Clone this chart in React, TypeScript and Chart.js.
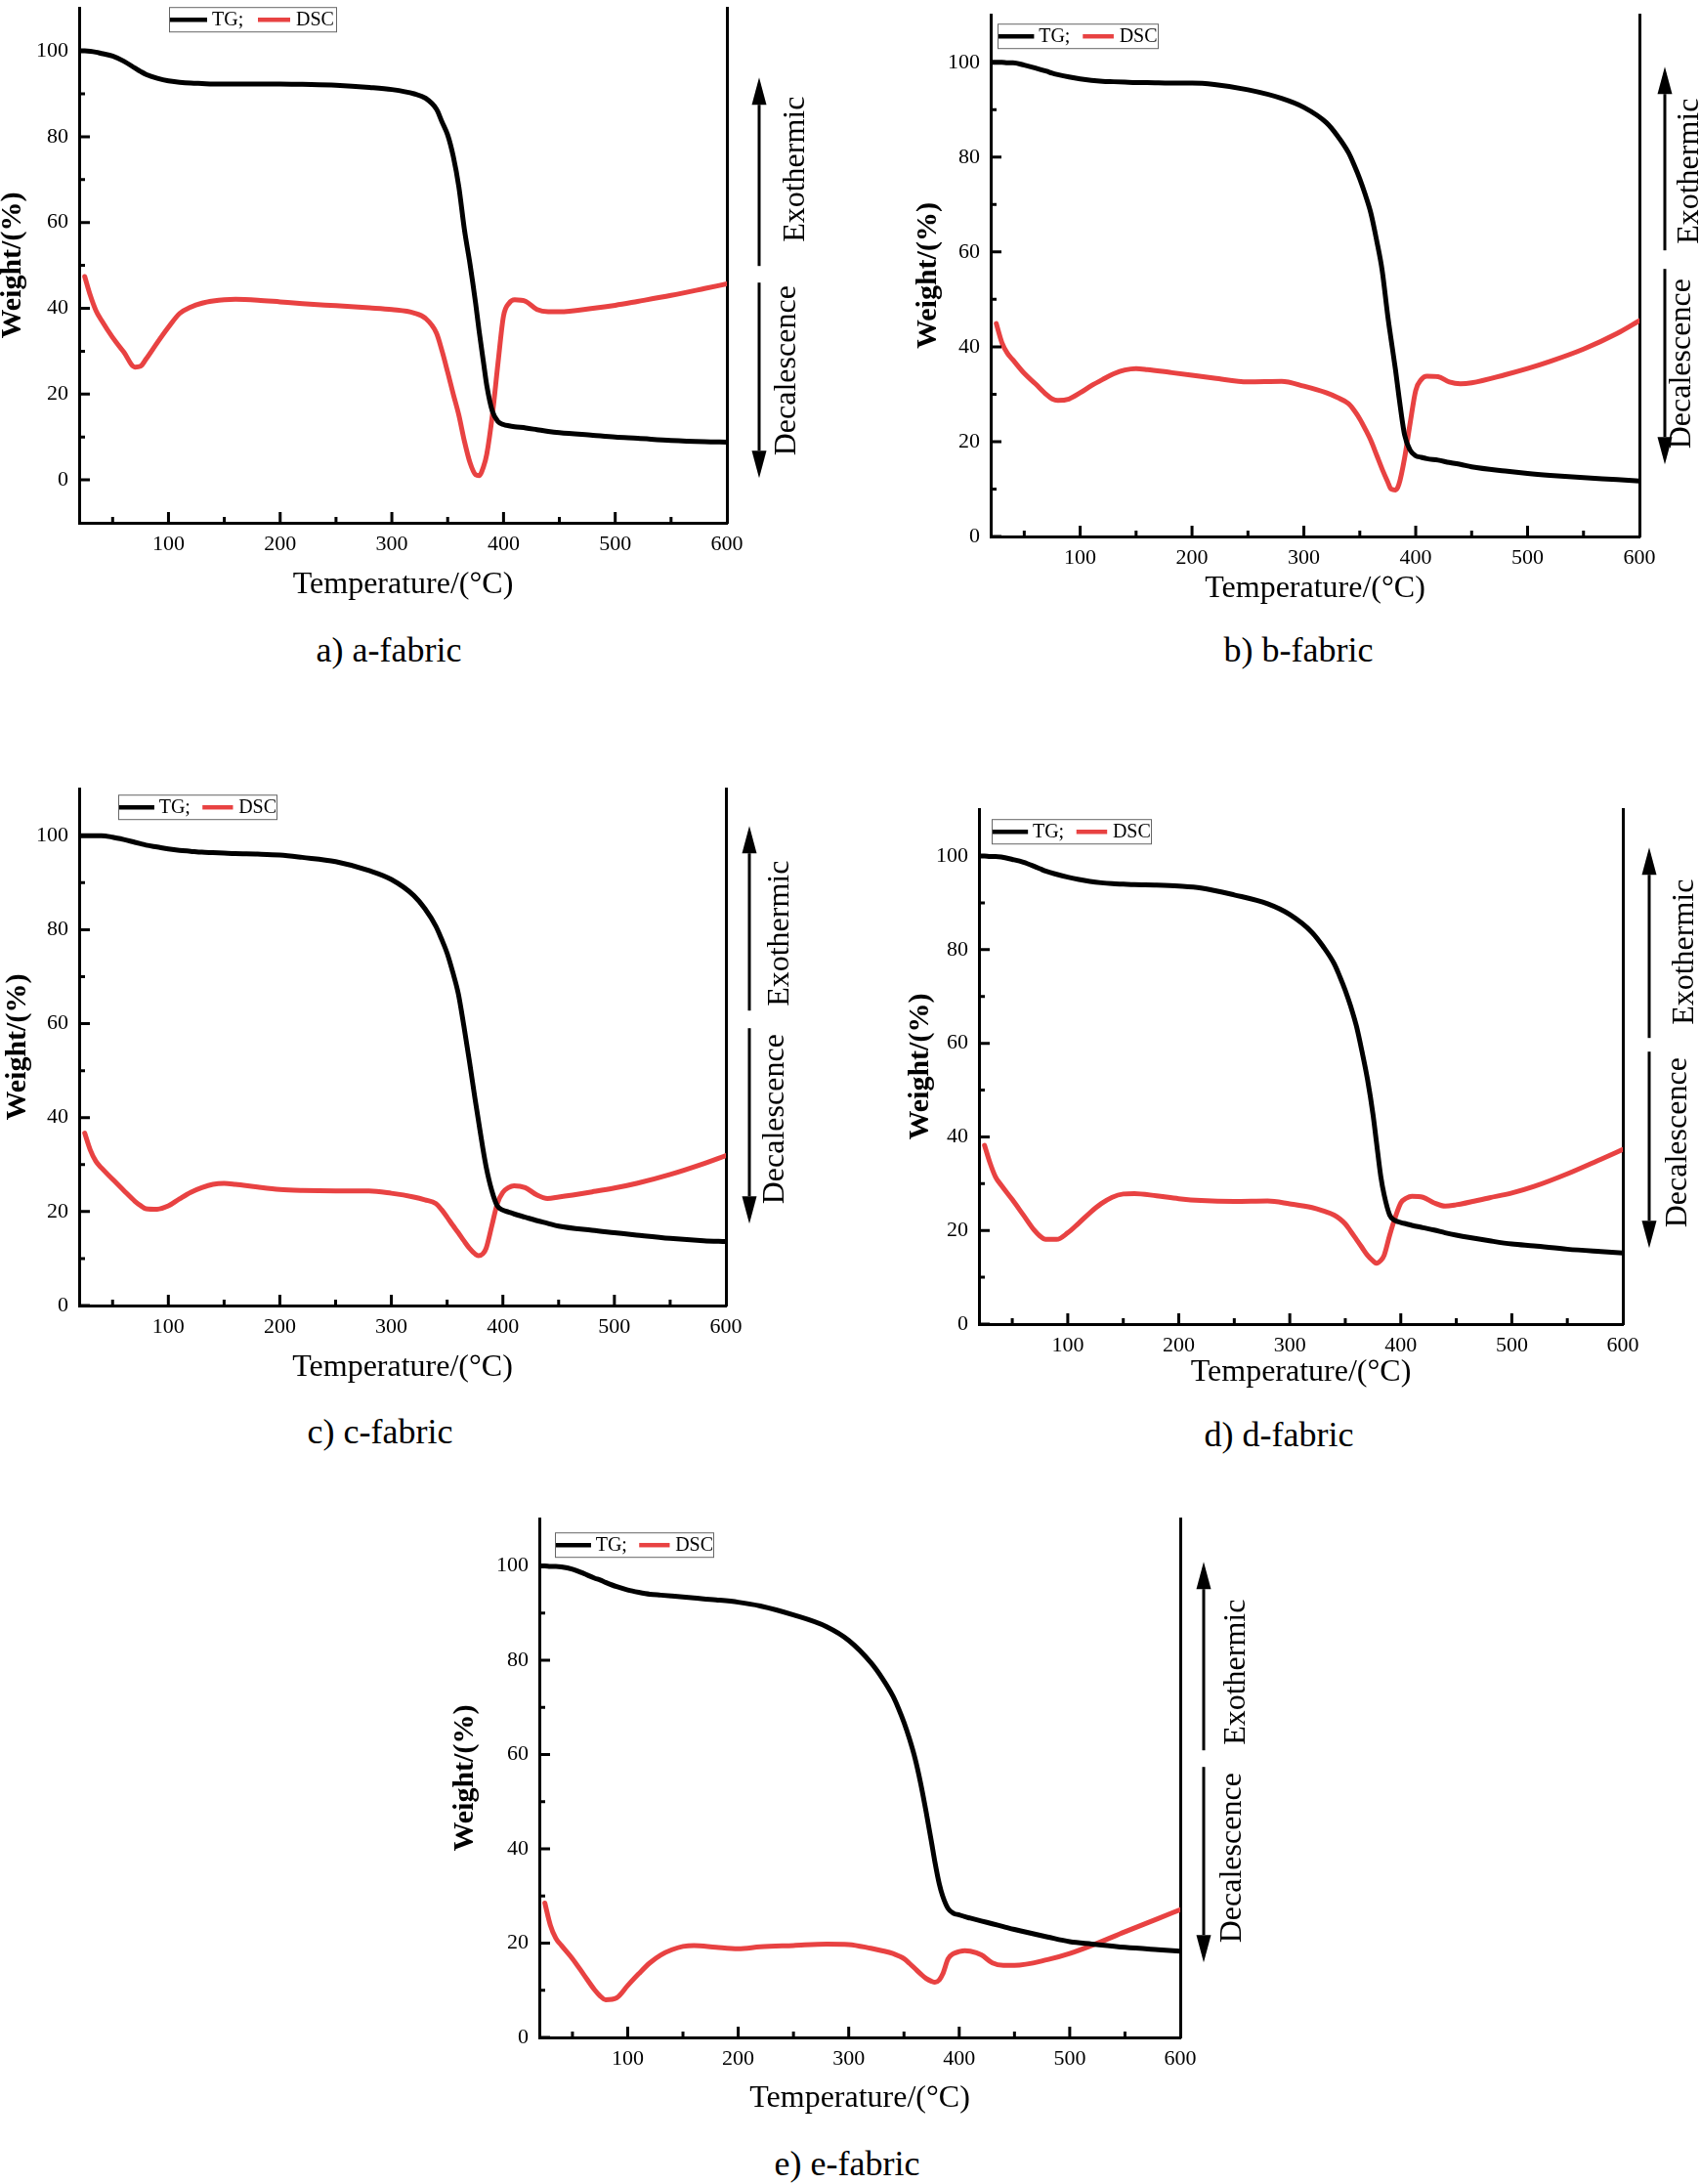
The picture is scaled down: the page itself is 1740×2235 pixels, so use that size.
import { useEffect, useRef } from "react";
import { Chart, registerables, Plugin } from "chart.js";

Chart.register(...registerables);

// shared temperature grid (°C) for every curve
const temps = [
  20, 25, 30, 35, 40, 50, 60, 70, 75, 80, 90, 100, 110, 120, 130, 140, 150, 160, 180, 200,
  220, 250, 280, 300, 320, 330, 340, 345, 350, 355, 360, 365, 370, 375, 378, 382, 385, 390,
  395, 400, 405, 410, 420, 430, 440, 450, 480, 500, 520, 550, 580, 600,
];

const aTG = [
  100, 100, 99.9, 99.7, 99.4, 98.8, 97.6, 96, 95.2, 94.5, 93.6, 93, 92.7, 92.5, 92.4, 92.3,
  92.3, 92.3, 92.3, 92.3, 92.2, 92, 91.5, 91, 90, 89, 86.4, 83.4, 80.4, 75.4, 68.3, 58.3,
  50.3, 41.2, 35, 27.5, 22, 16, 13.6, 12.9, 12.6, 12.4, 12.1, 11.7, 11.3, 11, 10.4, 10, 9.7,
  9.2, 8.9, 8.8,
];
const aDSC = [
  null, 47.4, 43, 39.5, 37.2, 33.2, 29.8, 26.3, 26.5, 28.2, 32, 35.6, 38.8, 40.3, 41.2,
  41.7, 42, 42.1, 41.9, 41.5, 41.1, 40.6, 40.1, 39.7, 38.9, 37.7, 34.2, 30, 25.1, 20, 15.1, 9,
  4, 1.2, 1, 3, 6, 15.1, 27.1, 38.2, 41.2, 42, 41.6, 39.7, 39.2, 39.2, 40, 40.7, 41.6, 43,
  44.6, 45.7,
];

const bTG = [
  100, 100, 100, 99.9, 99.9, 99.4, 98.8, 98.1, 97.7, 97.4, 96.9, 96.5, 96.2, 96, 95.9, 95.8,
  95.7, 95.7, 95.6, 95.6, 95.3, 94.2, 92.4, 90.5, 87.3, 84.5, 80.9, 78.3, 75.4, 72, 68.1,
  62.5, 56.1, 46.5, 41.5, 35, 29.5, 21.5, 18.2, 17, 16.7, 16.4, 16.1, 15.6, 15.2, 14.7, 13.8,
  13.3, 12.9, 12.4, 12, 11.7,
];
const bDSC = [
  null, 44.9, 40.9, 38.6, 37.2, 34.4, 32.2, 29.9, 29, 28.7, 29, 30.3, 31.8, 33.1, 34.3, 35.1,
  35.4, 35.2, 34.6, 34, 33.4, 32.6, 32.7, 31.7, 30.3, 29.3, 28, 26.6, 24.8, 22.6, 20.2, 17.2,
  14.2, 11.5, 10, 9.8, 11, 16.5, 23.9, 30.8, 33.1, 33.8, 33.7, 32.6, 32.2, 32.4, 34.1, 35.4,
  36.9, 39.5, 42.8, 45.5,
];

const cTG = [
  100, 100, 100, 100, 100, 99.7, 99.2, 98.6, 98.3, 98, 97.6, 97.2, 96.9, 96.7, 96.5, 96.4,
  96.3, 96.2, 96.1, 95.9, 95.4, 94.5, 92.6, 90.7, 87.3, 84.5, 80.7, 78, 75, 71, 66.4, 59.5,
  52, 44, 39.5, 33.5, 29.5, 24.5, 21.2, 20.3, 19.9, 19.5, 18.8, 18.1, 17.5, 16.9, 16, 15.5,
  15, 14.3, 13.8, 13.6,
];
const cDSC = [
  null, 36.7, 33.1, 30.7, 29.3, 26.9, 24.5, 22.2, 21.3, 20.6, 20.5, 21.2, 22.7, 24.1, 25.1,
  25.8, 26, 25.8, 25.2, 24.7, 24.5, 24.4, 24.4, 23.9, 23.1, 22.5, 21.7, 20.4, 18.8, 17.1,
  15.5, 13.8, 12.2, 11, 10.6, 11, 12.2, 16.9, 21.7, 24.1, 25.1, 25.5, 25.1, 23.6, 22.8, 23.1,
  24.2, 25, 26, 27.9, 30.2, 31.9,
];

const dTG = [
  100, 100, 99.9, 99.9, 99.8, 99.3, 98.7, 97.8, 97.3, 96.8, 96.1, 95.5, 95, 94.6, 94.3, 94.1,
  94, 93.9, 93.8, 93.6, 93.2, 91.7, 89.8, 87.5, 83.7, 80.7, 77, 74.3, 71.3, 67.8, 63.7, 58.3,
  52.3, 44.7, 39, 31.5, 27.6, 23.3, 22.1, 21.7, 21.4, 21.1, 20.6, 20.1, 19.5, 19, 17.8, 17.1,
  16.7, 16, 15.5, 15.2,
];
const dDSC = [
  null, 38.2, 34.4, 31.4, 29.7, 26.6, 23.3, 20, 18.8, 18.1, 18.1, 19.5, 21.6, 23.8, 25.7,
  27.1, 27.8, 27.9, 27.4, 26.8, 26.4, 26.2, 26.3, 25.7, 24.9, 24.2, 23.3, 22.5, 21.4, 19.8,
  18.1, 16.4, 14.7, 13.5, 13, 13.6, 14.7, 19, 22.8, 25.9, 26.9, 27.3, 27.1, 25.9, 25.2, 25.5,
  27, 28, 29.4, 32.1, 35.2, 37.3,
];

const eTG = [
  100, 100, 99.9, 99.9, 99.8, 99.3, 98.4, 97.4, 97, 96.5, 95.6, 94.9, 94.4, 94, 93.8, 93.6,
  93.4, 93.2, 92.8, 92.3, 91.5, 89.6, 87.1, 84.2, 79.5, 76.3, 72.4, 69.8, 66.8, 63.3, 59.2,
  54, 47.9, 41.3, 37.2, 32.5, 30, 27.3, 26.3, 26, 25.6, 25.3, 24.7, 24.1, 23.5, 22.9, 21.3,
  20.3, 19.8, 19.1, 18.6, 18.3,
];
const eDSC = [
  null, 28.5, 23.8, 21, 19.5, 16.7, 13.4, 10.1, 8.8, 8, 8.4, 11, 13.5, 15.8, 17.5, 18.6, 19.3,
  19.5, 19.1, 18.8, 19.2, 19.5, 19.8, 19.7, 18.9, 18.4, 17.8, 17.3, 16.7, 15.7, 14.6, 13.5,
  12.5, 11.9, 11.7, 12.2, 13.4, 16.7, 17.8, 18.2, 18.4, 18.3, 17.5, 15.8, 15.3, 15.3, 16.5,
  17.8, 19.5, 22.4, 25.2, 27.1,
];

const xTicks = [100, 200, 300, 400, 500, 600];
const xMinorTicks = [50, 150, 250, 350, 450, 550];
const yTicks = [0, 20, 40, 60, 80, 100];
const yMinorTicks = [10, 30, 50, 70, 90];
const seriesLabels = ["TG", "DSC"];

const FONT = "'Liberation Serif', 'Times New Roman', serif";
const RED = "#e84242";

// page layout of each panel: plot box, axis sizes, legend and arrow offsets
const layouts = [
  { caption: "a) a-fabric", tg: aTG, dsc: aDSC, L: 81, T: 4, R: 744, B: 535, yMin: -10, yw: 83, xh: 80,
    legend: [92, -1, 171], arrow: { dx: 33, up: [71, 264], down: [281, 481], exo: [71, 165], deca: [62, 371] },
    cap: [398, 666] },
  { caption: "b) b-fabric", tg: bTG, dsc: bDSC, L: 1014, T: 11, R: 1678, B: 549, yMin: 0, yw: 79, xh: 70,
    legend: [7, 9, 164], arrow: { dx: 26, up: [53, 241], down: [260, 460], exo: [52, 160], deca: [44, 357] },
    cap: [1329, 666] },
  { caption: "c) c-fabric", tg: cTG, dsc: cDSC, L: 81, T: 803, R: 743, B: 1336, yMin: 0, yw: 78, xh: 80,
    legend: [40, 6, 162], arrow: { dx: 24, up: [38, 227], down: [245, 445], exo: [56, 148], deca: [51, 338] },
    cap: [389, 1466] },
  { caption: "d) d-fabric", tg: dTG, dsc: dDSC, L: 1002, T: 824, R: 1661, B: 1355, yMin: 0, yw: 75, xh: 66,
    legend: [13, 10, 163], arrow: { dx: 27, up: [39, 234], down: [248, 449], exo: [64, 146], deca: [57, 341] },
    cap: [1309, 1469] },
  { caption: "e) e-fabric", tg: eTG, dsc: eDSC, L: 552, T: 1550, R: 1208, B: 2085, yMin: 0, yw: 91, xh: 79,
    legend: [16, 14, 162], arrow: { dx: 24, up: [44, 237], down: [254, 454], exo: [58, 157], deca: [54, 347] },
    cap: [867, 2215] },
];

type Layout = (typeof layouts)[number];

const PAD = { left: 10, top: 20, right: 120, bottom: 10 };

function drawArrow(ctx: CanvasRenderingContext2D, x: number, from: number, tip: number) {
  const dir = Math.sign(tip - from);
  const head = 28;
  ctx.beginPath();
  ctx.moveTo(x, from);
  ctx.lineTo(x, tip - dir * head);
  ctx.stroke();
  ctx.beginPath();
  ctx.moveTo(x, tip);
  ctx.lineTo(x - 7.5, tip - dir * head);
  ctx.lineTo(x + 7.5, tip - dir * head);
  ctx.closePath();
  ctx.fill();
}

const decorPlugin: Plugin = {
  id: "decor",
  afterDraw(chart, _args, opts: any) {
    const { ctx, chartArea: ca } = chart;
    const xs = chart.scales.x;
    const ys = chart.scales.y;
    ctx.save();

    // inward tick marks
    ctx.strokeStyle = "#000";
    ctx.lineWidth = 3;
    ctx.beginPath();
    xTicks.slice(0, -1).forEach((v) => {
      const p = xs.getPixelForValue(v);
      ctx.moveTo(p, ca.bottom);
      ctx.lineTo(p, ca.bottom - 11);
    });
    xMinorTicks.forEach((v) => {
      const p = xs.getPixelForValue(v);
      ctx.moveTo(p, ca.bottom);
      ctx.lineTo(p, ca.bottom - 6);
    });
    yTicks.forEach((v) => {
      const p = ys.getPixelForValue(v);
      ctx.moveTo(ca.left, p);
      ctx.lineTo(ca.left + 11, p);
    });
    yMinorTicks.forEach((v) => {
      const p = ys.getPixelForValue(v);
      ctx.moveTo(ca.left, p);
      ctx.lineTo(ca.left + 6, p);
    });
    ctx.stroke();

    // legend box
    const [ldx, ldy, lw] = opts.legend;
    const k = lw / 171;
    const lx = ca.left + ldx;
    const ly = ca.top + ldy;
    const lh = 25;
    ctx.fillStyle = "#fff";
    ctx.fillRect(lx, ly, lw, lh);
    ctx.lineWidth = 1;
    ctx.strokeStyle = "#666";
    ctx.strokeRect(lx + 0.5, ly + 0.5, lw, lh);
    const items = chart.data.datasets;
    const sampleAt = [1, 91];
    const sampleLen = [38, 33];
    const textAt = [44, 130];
    ctx.font = `20px ${FONT}`;
    ctx.textAlign = "left";
    ctx.textBaseline = "middle";
    items.forEach((ds: any, i) => {
      const cy = ly + lh / 2 + 0.5;
      ctx.strokeStyle = ds.borderColor;
      ctx.lineWidth = 4.5;
      ctx.beginPath();
      ctx.moveTo(lx + sampleAt[i] * k, cy);
      ctx.lineTo(lx + (sampleAt[i] + sampleLen[i]) * k, cy);
      ctx.stroke();
      ctx.fillStyle = "#000";
      const txt = i < items.length - 1 ? `${ds.label};` : ds.label;
      ctx.fillText(txt, lx + textAt[i] * k, cy + 1);
    });

    // heat-flow arrows and their labels
    const a = opts.arrow;
    const ax = ca.right + a.dx;
    ctx.strokeStyle = "#000";
    ctx.fillStyle = "#000";
    ctx.lineWidth = 3;
    drawArrow(ctx, ax, ca.top + a.up[1], ca.top + a.up[0]);
    drawArrow(ctx, ax, ca.top + a.down[0], ca.top + a.down[1]);
    ctx.font = `32px ${FONT}`;
    ctx.textAlign = "center";
    ctx.textBaseline = "middle";
    const vText = (t: string, x: number, y: number) => {
      ctx.save();
      ctx.translate(x, y);
      ctx.rotate(-Math.PI / 2);
      ctx.fillText(t, 0, 0);
      ctx.restore();
    };
    vText("Exothermic", ca.right + a.exo[0], ca.top + a.exo[1]);
    vText("Decalescence", ca.right + a.deca[0], ca.top + a.deca[1]);

    ctx.restore();
  },
};

function Panel({ layout }: { layout: Layout }) {
  const ref = useRef<HTMLCanvasElement | null>(null);
  const cl = layout.L - layout.yw - PAD.left;
  const ct = layout.T - PAD.top;
  const cw = layout.R + PAD.right - cl;
  const ch = layout.B + layout.xh + PAD.bottom - ct;

  useEffect(() => {
    const ctx = ref.current?.getContext("2d");
    if (!ctx) return;
    const tickFont = { family: FONT, size: 22 };
    const chart = new Chart(ctx, {
      type: "line",
      data: {
        labels: temps,
        datasets: [
          { label: seriesLabels[0], data: layout.tg, borderColor: "#000", backgroundColor: "#000" },
          { label: seriesLabels[1], data: layout.dsc, borderColor: RED, backgroundColor: RED },
        ],
      },
      options: {
        animation: false,
        responsive: false,
        devicePixelRatio: 1,
        layout: { padding: PAD },
        elements: {
          point: { radius: 0 },
          line: { borderWidth: 5, cubicInterpolationMode: "monotone", borderCapStyle: "round", borderJoinStyle: "round" },
        },
        plugins: {
          legend: { display: false },
          tooltip: { enabled: false },
          // @ts-ignore custom plugin options
          decor: { legend: layout.legend, arrow: layout.arrow },
        },
        scales: {
          x: {
            type: "linear",
            min: 20,
            max: 600,
            afterBuildTicks: (s: any) => {
              s.ticks = xTicks.map((value) => ({ value }));
            },
            afterFit: (s: any) => {
              s.height = layout.xh;
            },
            grid: { drawOnChartArea: false, drawTicks: false },
            border: { color: "#000", width: 3 },
            ticks: { color: "#000", font: tickFont, padding: 9, maxRotation: 0, autoSkip: false },
            title: {
              display: true,
              text: "Temperature/(°C)",
              color: "#000",
              font: { family: FONT, size: 32, lineHeight: 1 },
              padding: 0,
            },
          },
          y: {
            type: "linear",
            min: layout.yMin,
            max: 110,
            afterBuildTicks: (s: any) => {
              s.ticks = yTicks.map((value) => ({ value }));
            },
            afterFit: (s: any) => {
              s.width = layout.yw;
            },
            grid: { drawOnChartArea: false, drawTicks: false },
            border: { color: "#000", width: 3 },
            ticks: { color: "#000", font: tickFont, padding: 11 },
            title: {
              display: true,
              text: "Weight/(%)",
              color: "#000",
              font: { family: FONT, size: 30, weight: "bold", lineHeight: 1 },
              padding: 0,
            },
          },
          y2: {
            type: "linear",
            position: "right",
            min: 0,
            max: 1,
            afterFit: (s: any) => {
              s.width = 0;
            },
            grid: { drawOnChartArea: false, drawTicks: false },
            border: { color: "#000", width: 3 },
            ticks: { display: false },
          },
        },
      },
      plugins: [decorPlugin],
    } as any);
    return () => {
      chart.destroy();
    };
  }, [layout]);

  return (
    <canvas
      ref={ref}
      width={cw}
      height={ch}
      style={{ position: "absolute", left: cl, top: ct, width: cw, height: ch }}
    />
  );
}

export default function App() {
  return (
    <div
      style={{
        position: "absolute",
        left: 0,
        top: 0,
        width: 1740,
        height: 2235,
        overflow: "hidden",
        background: "#fff",
      }}
    >
      {layouts.map((l) => (
        <Panel key={l.caption} layout={l} />
      ))}
      {layouts.map((l) => (
        <div
          key={`cap-${l.caption}`}
          style={{
            position: "absolute",
            left: l.cap[0] - 200,
            top: l.cap[1] - 19,
            width: 400,
            textAlign: "center",
            fontFamily: FONT,
            fontSize: 36,
            lineHeight: "36px",
            color: "#000",
            whiteSpace: "nowrap",
          }}
        >
          {l.caption}
        </div>
      ))}
    </div>
  );
}
